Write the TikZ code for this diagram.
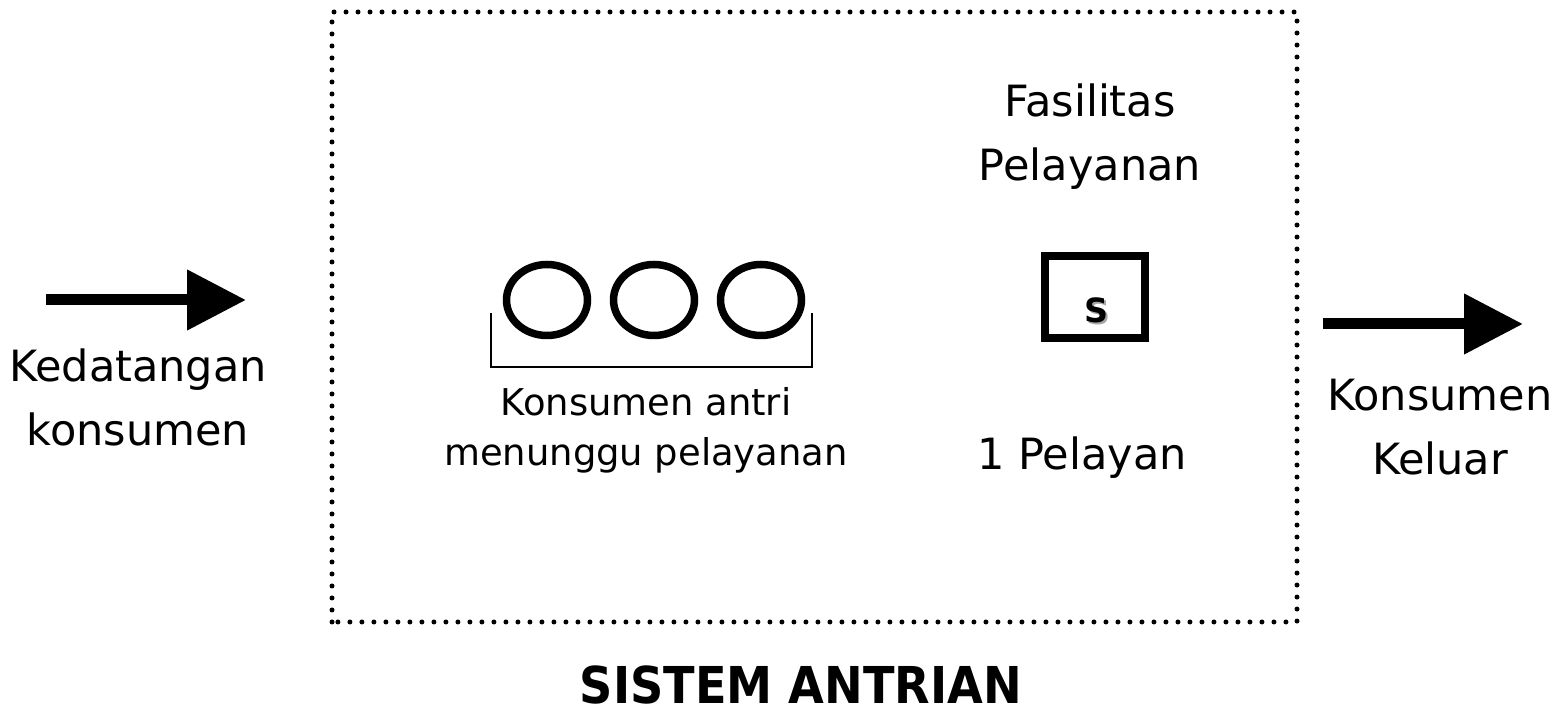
\documentclass[tikz,border=0pt]{standalone}
\usepackage{fontspec}
\setmainfont{DejaVu Sans}
\usetikzlibrary{arrows.meta}
\tikzset{
  label text/.style={align=center,font=\fontsize{24.5}{36.4}\selectfont},
  queue text/.style={align=center,font=\fontsize{21}{28.5}\selectfont},
  flow arrow/.style={line width=0.22cm,-{Triangle[length=1.18cm,width=1.16cm]}},
}

\begin{document}
\begin{tikzpicture}
                \useasboundingbox (0,0) rectangle (31.14,14.32);
                \draw[line width=0.1cm,line cap=round,dash pattern=on 0pt off 0.24cm] (6.64,1.88) rectangle (25.94,14.08);
                \coordinate (in start) at (0.92,8.32);
                \coordinate (in end) at (4.92,8.32);
                \draw[flow arrow] (in start)--(in end);
                \coordinate (out start) at (26.46,7.84);
                \coordinate (out end) at (30.46,7.84);
                \draw[flow arrow] (out start)--(out end);
                \node[label text] (arrive) at (2.76,6.38) {Kedatangan\\konsumen};
                \node[label text] (leave) at (28.8,5.78) {Konsumen\\Keluar};
                \foreach \x in {10.94,13.08,15.22}{
                    \draw[line width=0.15cm] (\x,8.32) ellipse (0.81 and 0.71);
                }
                \draw[line width=0.04cm] (9.82,8.06)|-(16.24,6.98)--(16.24,8.06);
                \node[queue text] (queue) at (12.92,5.72) {Konsumen antri\\menunggu pelayanan};
                \node[draw,line width=0.16cm,minimum width=2cm,minimum height=1.64cm] (server) at (21.9,8.38) {};
                \node[text=black!35,font=\fontsize{19}{19}\selectfont\bfseries] at (21.98,8.08) {S};
                \node[font=\fontsize{19}{19}\selectfont\bfseries] (s) at (21.94,8.12) {S};
                \node[label text] (facility) at (21.8,11.58) {Fasilitas\\Pelayanan};
                \node[label text] (one) at (21.64,5.16) {1 Pelayan};
                \node[font=\fontsize{26.3}{26.3}\selectfont\bfseries,inner sep=0pt,yscale=1.1,transform shape] (title) at (16.02,0.62) {SISTEM ANTRIAN};
            \end{tikzpicture}
\end{document}
